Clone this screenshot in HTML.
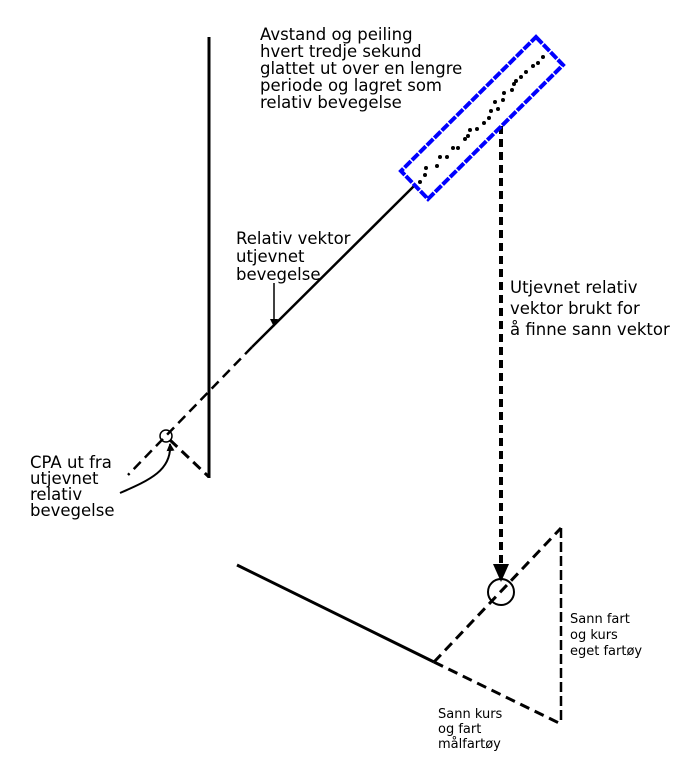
<!DOCTYPE html><html><head><style>body{margin:0;background:#fff}svg{display:block}text{font-family:"DejaVu Sans","Liberation Sans",sans-serif;fill:#000}</style></head><body>
<svg width="683" height="768" viewBox="0 0 683 768" xmlns="http://www.w3.org/2000/svg">
<defs><marker id="a" markerWidth="8" markerHeight="10" refX="7" refY="5" orient="auto" markerUnits="userSpaceOnUse"><path d="M0,1 L8,5 L0,9 Z" fill="#000"/></marker>
<marker id="b" markerWidth="18" markerHeight="20" refX="16" refY="10" orient="auto" markerUnits="userSpaceOnUse"><path d="M0,2 L18,10 L0,18 Z" fill="#000"/></marker></defs>
<g stroke="#000" fill="none">
<line x1="209" y1="37" x2="209" y2="478" stroke-width="3"/>
<line x1="414" y1="186" x2="252" y2="347" stroke-width="2.5"/>
<line x1="252" y1="347" x2="128" y2="475" stroke-width="2.5" stroke-dasharray="10,6"/>
<line x1="170" y1="440" x2="209" y2="477" stroke-width="3" stroke-dasharray="10,6"/>
<circle cx="166" cy="436" r="6" stroke-width="1.5"/>
<line x1="274" y1="283" x2="274" y2="326" stroke-width="1.5" marker-end="url(#a)"/>
<path d="M120,493 C150,480 172,470 170,444" stroke-width="2" marker-end="url(#a)"/>
<line x1="501" y1="126" x2="501" y2="580" stroke-width="4" stroke-dasharray="8,5" marker-end="url(#b)"/>
<circle cx="501" cy="592" r="13" stroke-width="2"/>
<line x1="237" y1="565" x2="434" y2="662" stroke-width="3"/>
<line x1="434" y1="662" x2="561" y2="528" stroke-width="3" stroke-dasharray="10,6"/>
<line x1="561" y1="528" x2="561" y2="724" stroke-width="2.5" stroke-dasharray="10,4"/>
<line x1="434" y1="662" x2="561" y2="724" stroke-width="3" stroke-dasharray="10,6"/>
<polygon points="536,37 563,65 428,199 401,171" stroke="#0000ff" stroke-width="4" stroke-dasharray="9,1.5"/>
</g>
<g fill="#000">
<circle cx="420" cy="182" r="2"/><circle cx="425" cy="175" r="2"/><circle cx="426" cy="168" r="2"/><circle cx="437" cy="166" r="2"/><circle cx="440" cy="157" r="2"/><circle cx="447" cy="157" r="2"/><circle cx="453" cy="148" r="2"/><circle cx="458" cy="148" r="2"/><circle cx="465" cy="139" r="2"/><circle cx="468" cy="136" r="2"/><circle cx="470" cy="130" r="2"/><circle cx="477" cy="129" r="2"/><circle cx="484" cy="123" r="2"/><circle cx="489" cy="118" r="2"/><circle cx="491" cy="111" r="2"/><circle cx="495" cy="102" r="2"/><circle cx="503" cy="100" r="2"/><circle cx="504" cy="93" r="2"/><circle cx="512" cy="90" r="2"/><circle cx="514" cy="84" r="2"/><circle cx="516" cy="81" r="2"/><circle cx="526" cy="72" r="2"/><circle cx="533" cy="66" r="2"/><circle cx="543" cy="57" r="2"/><circle cx="538" cy="63" r="2"/><circle cx="521" cy="77" r="2"/><circle cx="498" cy="109" r="2"/>
</g>
<g font-size="16.5">
<text x="260" y="40">Avstand og peiling</text>
<text x="260" y="57">hvert tredje sekund</text>
<text x="260" y="74">glattet ut over en lengre</text>
<text x="260" y="91">periode og lagret som</text>
<text x="260" y="108">relativ bevegelse</text>
<text x="236" y="244">Relativ vektor</text>
<text x="236" y="262">utjevnet</text>
<text x="236" y="280">bevegelse</text>
<text x="510" y="293">Utjevnet relativ</text>
<text x="510" y="314">vektor brukt for</text>
<text x="510" y="335">å finne sann vektor</text>
<text x="30" y="468">CPA ut fra</text>
<text x="30" y="484">utjevnet</text>
<text x="30" y="500">relativ</text>
<text x="30" y="516">bevegelse</text>
</g>
<g font-size="13">
<text x="570" y="623">Sann fart</text>
<text x="570" y="639">og kurs</text>
<text x="570" y="655">eget fartøy</text>
<text x="438" y="718">Sann kurs</text>
<text x="438" y="733">og fart</text>
<text x="438" y="748">målfartøy</text>
</g>
</svg></body></html>
